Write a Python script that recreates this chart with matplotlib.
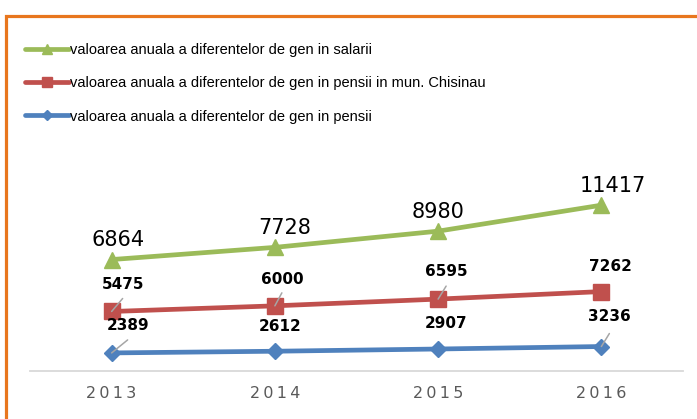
import numpy as np
import matplotlib
matplotlib.use('Agg')
import matplotlib.pyplot as plt
from matplotlib.patches import Rectangle

plt.rcParams['font.family'] = ['Liberation Sans', 'DejaVu Sans']

years = ['2013', '2014', '2015', '2016']
pensii = [2389, 2612, 2907, 3236]
pensii_chisinau = [5475, 6000, 6595, 7262]
salarii = [6864, 7728, 8980, 11417]

names = ['valoarea anuala a diferentelor de gen in pensii',
         'valoarea anuala a diferentelor de gen in pensii in mun. Chisinau',
         'valoarea anuala a diferentelor de gen in salarii']
colors = ['#4F81BD', '#C0504D', '#9BBB59']
markers = ['D', 's', '^']
msizes = [8, 11.5, 11.5]

# stacked line chart (Excel "stacked line with markers")
vals = np.array([pensii, pensii_chisinau, salarii])
stack = np.cumsum(vals, axis=0)
x = np.arange(len(years))

fig = plt.figure(figsize=(6.97, 4.19), dpi=100)
fig.patches.append(Rectangle((6/697, -0.05), 1.0, 1 - 15.5/419 + 0.05,
                             transform=fig.transFigure, fill=False,
                             edgecolor='#E8761E', lw=2.3, zorder=0))
ax = fig.add_axes([30/697, 1 - 371/419, 653/697, 227/419])

lines = []
for i in range(3):
    ln, = ax.plot(x, stack[i], color=colors[i], lw=3.4, marker=markers[i],
                  ms=msizes[i], label=names[i], zorder=3, solid_capstyle='round')
    lines.append(ln)

ax.set_xlim(-0.5, 3.5)
ax.set_ylim(0, 30000)
ax.set_yticks([])
for s in ['top', 'right', 'left']:
    ax.spines[s].set_visible(False)
ax.spines['bottom'].set_color('#D9D9D9')
ax.spines['bottom'].set_linewidth(1.3)
ax.set_xticks(x)
ax.set_xticklabels(['\u2009'.join(y) for y in years], fontsize=11.5, color='#595959',
                   family='DejaVu Sans')
ax.tick_params(axis='x', length=0, pad=11)

# labels: green normal, red/blue bold with leader lines
px = 0.72
green_dx = [6, 10, 0, 11]
for i in range(4):
    ax.annotate(str(salarii[i]), (x[i], stack[2][i]), xytext=(green_dx[i]*px, 13.5*px),
                textcoords='offset points', ha='center', va='baseline',
                fontsize=15, family='DejaVu Sans', zorder=5)

red_dx = [11, 7, 8, 9]
red_dy = [22, 22, 23, 21]
blue_dx = [16, 5, 8, 8]
blue_dy = [23, 20, 21, 26]
red_leader = [True, True, True, False]
blue_leader = [True, False, False, True]
for row, vlist, dxs, dys, leads in [(1, pensii_chisinau, red_dx, red_dy, red_leader),
                                    (0, pensii, blue_dx, blue_dy, blue_leader)]:
    for i in range(4):
        ax.annotate(str(vlist[i]), (x[i], stack[row][i]), xytext=(dxs[i]*px, dys[i]*px),
                    textcoords='offset points', ha='center', va='baseline',
                    fontsize=11, fontweight='bold', family='DejaVu Sans', zorder=5)
        if leads[i]:
            ax.annotate('', (x[i], stack[row][i]), xytext=(dxs[i]*px, 13*px),
                        textcoords='offset points',
                        arrowprops=dict(arrowstyle='-', color='#A6A6A6', lw=1.1,
                                        shrinkA=0, shrinkB=0), zorder=6)

fig.legend(lines[::-1], names[::-1], loc='upper left', bbox_to_anchor=(25/697, 1 - 43/419),
           frameon=False, fontsize=10.5, handlelength=3.0, handletextpad=0.1,
           labelspacing=1.32, borderpad=0, borderaxespad=0, markerscale=0.65)

fig.savefig('out.png', dpi=100)
